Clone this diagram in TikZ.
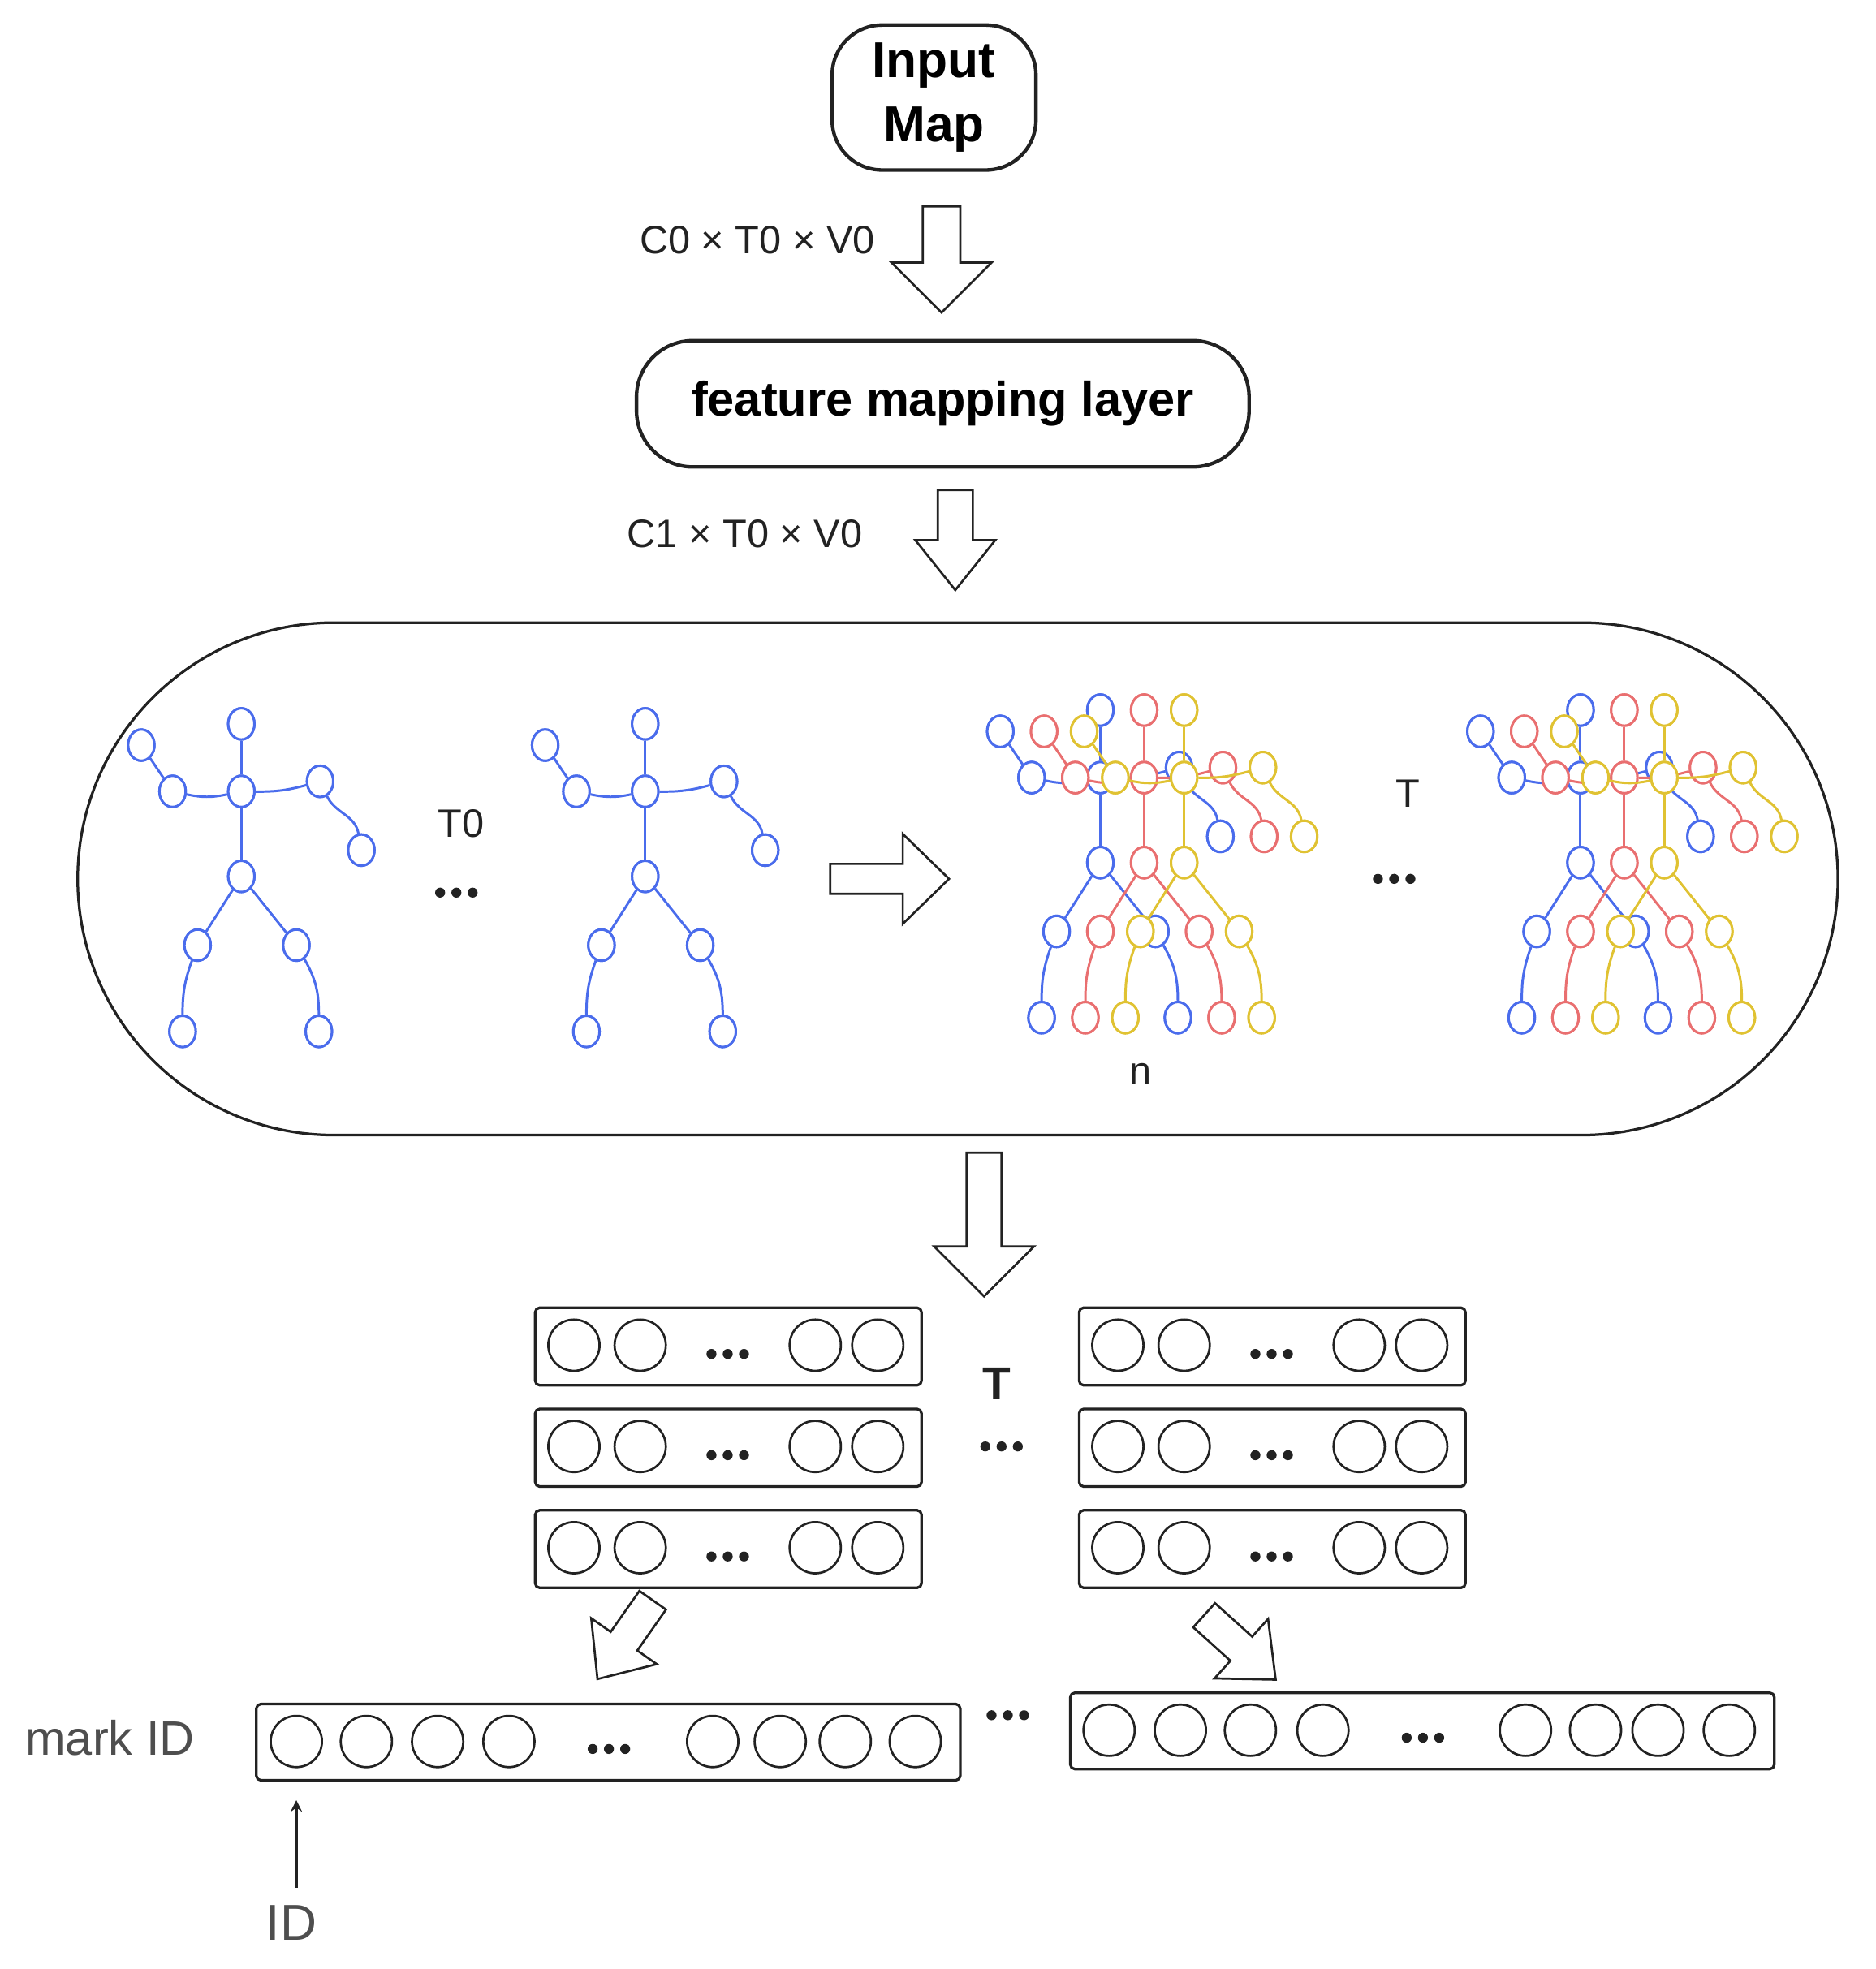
\documentclass[tikz,border=0pt]{standalone}
\usepackage{fontspec}
\setmainfont{Liberation Sans}
\usetikzlibrary{shapes.geometric}
\definecolor{sb}{HTML}{4A6CEC}
\definecolor{sr}{HTML}{E96F70}
\definecolor{sy}{HTML}{E0C232}
\definecolor{ink}{HTML}{222222}
\newcommand{\fs}[1]{\fontsize{#1}{#1}\selectfont}
\tikzset{
  jt/.style={ellipse,draw,fill=white,line width=1.1pt,minimum width=0.42cm,minimum height=0.5cm,inner sep=0pt},
  bone/.style={line width=1.1pt},
  pics/harrow/.style n args={4}{code={
    \draw[line width=1pt,fill=white,draw=ink] (0,-#2) -- (#1,-#2) -- (#1,-#3) -- ({#1+#4},0) -- (#1,#3) -- (#1,#2) -- (0,#2) -- cycle;}},
  box/.style={draw=ink,line width=1.2pt,rounded corners=2pt},
  cell/.style={circle,draw=ink,line width=1pt,minimum size=0.82cm,inner sep=0pt},
  lbl/.style={text=ink,font=\fs{18}},
}
\newcommand{\tdots}[2]{\foreach \k in {-13,0,13}{\fill[ink] (#1+\k,#2) circle (4);}}
\newcommand{\skel}[4]{%
\begin{scope}[shift={(#3,#4)},draw=#2,color=#2]
 \node[jt] (#1n) at (0,0) {};
 \node[jt] (#1h) at (0,-54) {};
 \node[jt] (#1le) at (-55,0) {};
 \node[jt] (#1lh) at (-80,-37) {};
 \node[jt] (#1re) at (63,-8) {};
 \node[jt] (#1rh) at (96,47) {};
 \node[jt] (#1p) at (0,68) {};
 \node[jt] (#1lk) at (-35,123) {};
 \node[jt] (#1rk) at (44,123) {};
 \node[jt] (#1lf) at (-47,192) {};
 \node[jt] (#1rf) at (62,192) {};
 \draw[bone] (#1h) -- (#1n);
 \draw[bone] (#1n) to[bend left=12] (#1le);
 \draw[bone] (#1le) -- (#1lh);
 \draw[bone] (#1n) to[bend right=8] (#1re);
 \draw[bone] (#1re) to[out=-65,in=100] (#1rh);
 \draw[bone] (#1n) -- (#1p);
 \draw[bone] (#1p) -- (#1lk);
 \draw[bone] (#1p) -- (#1rk);
 \draw[bone] (#1lk) to[out=-110,in=90] (#1lf);
 \draw[bone] (#1rk) to[out=-60,in=90] (#1rf);
 \foreach \j in {n,h,le,lh,re,rh,p,lk,rk,lf,rf}{\node[jt] at (#1\j) {};}
\end{scope}}
\newcommand{\rowbox}[3]{% name, left x, top y
 \node[box,minimum width=6.18cm,minimum height=1.24cm,anchor=north west] (#1) at (#2,#3) {};
 \foreach \cx [count=\i] in {32,85,225,275}{\node[cell] (#1c\i) at (#2+\cx,#3+31) {};}
 \tdots{#2+155}{#3+38}}
\begin{document}
\begin{tikzpicture}[x=0.02cm,y=-0.02cm]
\useasboundingbox (0,0) rectangle (1500,1575);
% top
\node[draw=ink,line width=1.6pt,rounded corners=0.8cm,minimum width=3.26cm,minimum height=2.32cm,align=center,font=\fontsize{23}{29}\selectfont\bfseries,text=black,inner sep=0pt] (inp) at (747,78) {Input\\Map};
\pic at (753,165) [rotate=-90] {harrow={45}{15}{40}{40}};
\node[lbl,anchor=east] (l0) at (706,192) {C0 × T0 × V0};
\node[draw=ink,line width=1.6pt,rounded corners=0.9cm,minimum width=9.8cm,minimum height=2.02cm,font=\fs{22}\bfseries,text=black] (fml) at (754,323) {feature mapping layer};
\pic at (764,392) [rotate=-90] {harrow={40}{14}{32}{40}};
\node[lbl,anchor=east] (l1) at (696,427) {C1 × T0 × V0};
% container
\node[draw=ink,line width=1.2pt,rounded corners=4.1cm,minimum width=28.16cm,minimum height=8.2cm] (cont) at (766,703) {};
\skel{a}{sb}{193}{633}
\skel{b}{sb}{516}{633}
\node[lbl] (t0) at (369,659) {T0};
\tdots{365}{714}
\pic at (664,703) {harrow={58}{12}{36}{37}};
\skel{c}{sb}{880}{622}
\skel{d}{sr}{915}{622}
\skel{e}{sy}{947}{622}
\skel{f}{sb}{1264}{622}
\skel{g}{sr}{1299}{622}
\skel{h}{sy}{1331}{622}
\node[lbl] (tt) at (1126,635) {T};
\tdots{1115}{703}
\node[lbl] (nn) at (912,859) {n};
% down arrow
\pic at (787,922) [rotate=-90] {harrow={75}{14}{40}{40}};
% grid
\rowbox{r1}{427}{1045}
\rowbox{r2}{427}{1126}
\rowbox{r3}{427}{1207}
\rowbox{s1}{862}{1045}
\rowbox{s2}{862}{1126}
\rowbox{s3}{862}{1207}
\node[text=ink,font=\fs{21}\bfseries] (tg) at (797,1107) {T};
\tdots{801}{1157}
\pic at (522,1280) [rotate=-125] {harrow={40}{13}{32}{37}};
\pic at (963,1292) [rotate=-42] {harrow={40}{13}{32}{37}};
% bottom
\node[box,minimum width=11.26cm,minimum height=1.22cm,anchor=north west] (b1) at (204,1362) {};
\foreach \cx [count=\i] in {237,293,350,407,570,624,676,732}{\node[cell] (b1c\i) at (\cx,1393) {};}
\tdots{487}{1399}
\tdots{806}{1372}
\node[box,minimum width=11.26cm,minimum height=1.22cm,anchor=north west] (b2) at (855,1353) {};
\foreach \cx [count=\i] in {887,944,1000,1058,1220,1276,1326,1383}{\node[cell] (b2c\i) at (\cx,1384) {};}
\tdots{1138}{1390}
\node[text=ink!80,font=\fs{22}] (mk) at (88,1390) {mark ID};
\node[text=ink!80,font=\fs{23}] (id) at (233,1538) {ID};
\draw[-stealth,line width=1.3pt,ink] (id.north -| 237,0) ++(0,-8) coordinate (ida) -- (237,1440) coordinate (idb);
\end{tikzpicture}
\end{document}
